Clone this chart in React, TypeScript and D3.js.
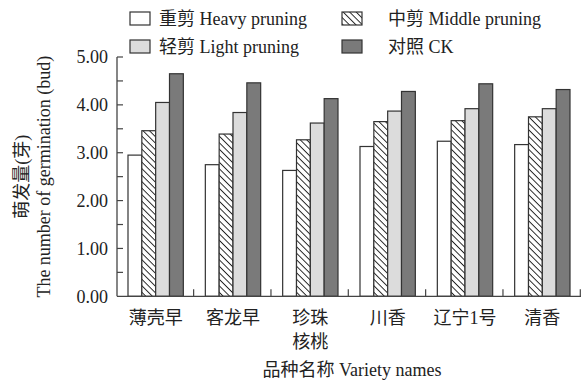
import React, { useEffect, useRef } from "react";
import * as d3 from "d3";

// varieties (x categories), second line for wrapped labels
const varieties: string[][] = [["薄壳早"], ["客龙早"], ["珍珠", "核桃"], ["川香"], ["辽宁1号"], ["清香"]];

// series values
const heavy = [2.95, 2.75, 2.63, 3.13, 3.24, 3.17];
const middle = [3.46, 3.39, 3.27, 3.65, 3.67, 3.75];
const light = [4.05, 3.84, 3.62, 3.87, 3.92, 3.92];
const control = [4.65, 4.46, 4.13, 4.28, 4.44, 4.32];

const seriesNames = ["重剪 Heavy pruning", "中剪 Middle pruning", "轻剪 Light pruning", "对照 CK"];
const yTicks = [0, 1, 2, 3, 4, 5];

const App: React.FC = () => {
  const svgRef = useRef<SVGSVGElement | null>(null);

  useEffect(() => {
    const width = 581;
    const height = 385;
    const font = "'Liberation Serif', 'Times New Roman', 'Noto Sans CJK SC', serif";
    const margin = { top: 57, right: 0, bottom: 88, left: 117 };

    const svg = d3.select(svgRef.current);
    svg.selectAll("*").remove();

    // diagonal hatch, lines running top-left to bottom-right
    const defs = svg.append("defs");
    const pat = defs
      .append("pattern")
      .attr("id", "hatch")
      .attr("patternUnits", "userSpaceOnUse")
      .attr("width", 4.6)
      .attr("height", 4.6)
      .attr("patternTransform", "rotate(45)");
    pat.append("rect").attr("width", 4.6).attr("height", 4.6).attr("fill", "#fff");
    pat.append("line").attr("x1", 0).attr("y1", 0).attr("x2", 4.6).attr("y2", 0)
      .attr("stroke", "#222").attr("stroke-width", 1.9);

    const series = [heavy, middle, light, control];
    const fills = ["#ffffff", "url(#hatch)", "#dcdcdc", "#7a7a7a"];

    const x0 = d3
      .scaleBand<number>()
      .domain(d3.range(varieties.length))
      .range([margin.left, width - margin.right]);

    const x1 = d3
      .scaleBand<number>()
      .domain(d3.range(series.length))
      .range([11, x0.bandwidth() - 11]);

    const y = d3
      .scaleLinear()
      .domain([0, 5])
      .range([height - margin.bottom - 0.7, margin.top]);

    const axisColor = "#444";

    // bars
    const groups = svg
      .append("g")
      .selectAll("g")
      .data(varieties.map((_, i) => i))
      .enter()
      .append("g")
      .attr("transform", (i) => `translate(${x0(i)},0)`);

    groups
      .selectAll("rect")
      .data((i) => series.map((s, k) => ({ k, v: s[i] })))
      .enter()
      .append("rect")
      .attr("x", (d) => x1(d.k)!)
      .attr("y", (d) => y(d.v))
      .attr("width", x1.bandwidth())
      .attr("height", (d) => y(0) - y(d.v))
      .attr("fill", (d) => fills[d.k])
      .attr("stroke", "#333")
      .attr("stroke-width", 1.2);

    // y axis
    const yAxis = svg.append("g").attr("transform", `translate(${margin.left},0)`);
    yAxis.append("line")
      .attr("x1", 0).attr("x2", 0)
      .attr("y1", y(5)).attr("y2", y(0))
      .attr("stroke", axisColor).attr("stroke-width", 1.3);
    yAxis.selectAll(".tick")
      .data(d3.range(0.5, 5.01, 0.5))
      .enter()
      .append("line")
      .attr("x1", 0).attr("x2", 6)
      .attr("y1", (d) => y(d)).attr("y2", (d) => y(d))
      .attr("stroke", axisColor).attr("stroke-width", 1.2);
    yAxis.selectAll("text")
      .data(yTicks)
      .enter()
      .append("text")
      .attr("x", -9)
      .attr("y", (d) => y(d))
      .attr("dy", "0.35em")
      .attr("text-anchor", "end")
      .attr("font-family", font)
      .attr("font-size", 18)
      .attr("fill", "#222")
      .text((d) => d3.format(".2f")(d));

    // x axis
    const xAxis = svg.append("g").attr("transform", `translate(0,${y(0)})`);
    xAxis.append("line")
      .attr("x1", margin.left).attr("x2", width)
      .attr("y1", 0).attr("y2", 0)
      .attr("stroke", axisColor).attr("stroke-width", 1.3);
    xAxis.selectAll(".tick")
      .data(varieties.map((_, i) => i))
      .enter()
      .append("line")
      .attr("x1", (i) => x0(i)! + x0.bandwidth() - 0.7)
      .attr("x2", (i) => x0(i)! + x0.bandwidth() - 0.7)
      .attr("y1", 0).attr("y2", -7)
      .attr("stroke", axisColor).attr("stroke-width", 1.2);
    xAxis.selectAll("text")
      .data(varieties)
      .enter()
      .append("text")
      .attr("font-family", font)
      .attr("font-size", 18)
      .attr("fill", "#222")
      .attr("text-anchor", "middle")
      .attr("transform", (_, i) => `translate(${x0(i)! + x0.bandwidth() / 2},0)`)
      .selectAll("tspan")
      .data((d) => d)
      .enter()
      .append("tspan")
      .attr("x", 0)
      .attr("y", (_, j) => 28 + j * 24)
      .text((d) => d);

    // axis titles
    svg.append("text")
      .attr("x", 352).attr("y", 376)
      .attr("text-anchor", "middle")
      .attr("font-family", font)
      .attr("font-size", 18)
      .attr("fill", "#222")
      .text("品种名称 Variety names");

    const yTitle = svg.append("g").attr("transform", `translate(0,${(y(0) + y(5)) / 2}) rotate(-90)`);
    yTitle.append("text")
      .attr("x", 0).attr("y", 28)
      .attr("text-anchor", "middle")
      .attr("font-family", font)
      .attr("font-size", 18)
      .attr("fill", "#222")
      .text("萌发量(芽)");
    yTitle.append("text")
      .attr("x", 0).attr("y", 50)
      .attr("text-anchor", "middle")
      .attr("font-family", font)
      .attr("font-size", 18)
      .attr("fill", "#222")
      .text("The number of germination (bud)");

    // legend
    const legendPos = [
      { x: 130, y: 12 },
      { x: 342, y: 12 },
      { x: 130, y: 40 },
      { x: 342, y: 40 },
    ];
    const textOffset = [29, 46, 29, 46];
    const legend = svg.append("g");
    seriesNames.forEach((name, k) => {
      const p = legendPos[k];
      legend.append("rect")
        .attr("x", p.x).attr("y", p.y)
        .attr("width", 20).attr("height", 13)
        .attr("fill", fills[k])
        .attr("stroke", "#333").attr("stroke-width", 1.2);
      legend.append("text")
        .attr("x", p.x + textOffset[k]).attr("y", p.y + 13)
        .attr("font-family", font)
        .attr("font-size", 18)
        .attr("fill", "#222")
        .text(name);
    });
  }, []);

  return <svg ref={svgRef} width={581} height={385} style={{ position: "absolute", left: 0, top: 0 }} />;
};

export default App;
